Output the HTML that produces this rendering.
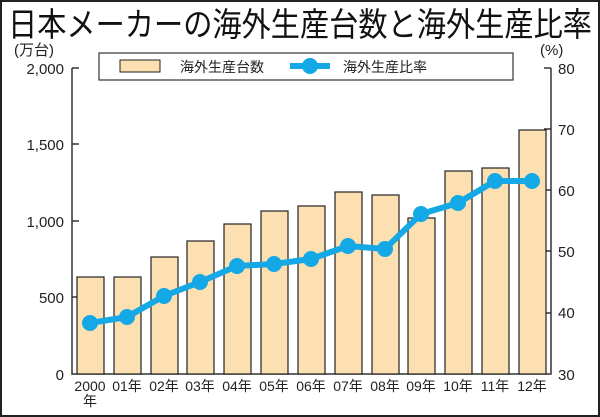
<!DOCTYPE html>
<html><head><meta charset="utf-8"><style>
html,body{margin:0;padding:0;background:#fff}
svg{display:block;font-family:"Liberation Sans","Noto Sans CJK JP",sans-serif}
</style></head><body>
<svg width="600" height="417" viewBox="0 0 600 417">
<rect x="1" y="1" width="598" height="415" fill="#fff" stroke="#222" stroke-width="2"/>
<text x="8" y="36" font-size="33" fill="#111" textLength="584" lengthAdjust="spacingAndGlyphs">日本メーカーの海外生産台数と海外生産比率</text>
<text x="14" y="55" font-size="15" fill="#222">(万台)</text>
<text x="540" y="55" font-size="15" fill="#222">(%)</text>
<g font-size="15" fill="#222" text-anchor="end">
<text x="64" y="74">2,000</text><text x="64" y="150">1,500</text><text x="64" y="227">1,000</text><text x="64" y="303">500</text><text x="64" y="380">0</text>
</g>
<g font-size="15" fill="#222">
<text x="558" y="74">80</text><text x="558" y="135">70</text><text x="558" y="196">60</text><text x="558" y="257">50</text><text x="558" y="318">40</text><text x="558" y="380">30</text>
</g>
<g stroke="#333" stroke-width="1.5" fill="none">
<path d="M72 68 V374 H551 V68"/>
<path d="M72 68 H79 M72 144 H79 M72 221 H79 M72 297 H79"/>
<path d="M551 68 H544 M551 129 H544 M551 190 H544 M551 251 H544 M551 313 H544"/>
</g>
<g fill="#fde0b2" stroke="#222" stroke-width="1.2">
<rect x="77" y="277" width="27" height="97"/>
<rect x="114" y="277" width="27" height="97"/>
<rect x="151" y="257" width="27" height="117"/>
<rect x="187" y="241" width="27" height="133"/>
<rect x="224" y="224" width="27" height="150"/>
<rect x="261" y="211" width="27" height="163"/>
<rect x="298" y="206" width="27" height="168"/>
<rect x="335" y="192" width="27" height="182"/>
<rect x="372" y="195" width="27" height="179"/>
<rect x="408" y="218" width="27" height="156"/>
<rect x="445" y="171" width="27" height="203"/>
<rect x="482" y="168" width="27" height="206"/>
<rect x="519" y="130" width="27" height="244"/>
</g>
<polyline fill="none" stroke="#14a8e6" stroke-width="6" stroke-linejoin="round" points="90,323 127,317 164,296 200,282 237,266 274,264 311,259 348,246 385,249 421,214 458,203 495,181 532,181"/>
<g fill="#14a8e6">
<circle cx="90" cy="323" r="8"/><circle cx="127" cy="317" r="8"/><circle cx="164" cy="296" r="8"/><circle cx="200" cy="282" r="8"/><circle cx="237" cy="266" r="8"/><circle cx="274" cy="264" r="8"/><circle cx="311" cy="259" r="8"/><circle cx="348" cy="246" r="8"/><circle cx="385" cy="249" r="8"/><circle cx="421" cy="214" r="8"/><circle cx="458" cy="203" r="8"/><circle cx="495" cy="181" r="8"/><circle cx="532" cy="181" r="8"/>
</g>
<rect x="99" y="53" width="414" height="27" fill="#fff" stroke="#333" stroke-width="1.2"/>
<rect x="120" y="60" width="40" height="12" fill="#fde0b2" stroke="#222" stroke-width="1"/>
<text x="180" y="72" font-size="14" fill="#222">海外生産台数</text>
<line x1="290" y1="66" x2="330" y2="66" stroke="#14a8e6" stroke-width="6"/>
<circle cx="310" cy="66" r="8" fill="#14a8e6"/>
<text x="343" y="72" font-size="14" fill="#222">海外生産比率</text>
<g font-size="14" fill="#222" text-anchor="middle">
<text x="90" y="391">2000</text><text x="90" y="406">年</text>
<text x="127" y="391">01年</text><text x="164" y="391">02年</text><text x="200" y="391">03年</text><text x="237" y="391">04年</text><text x="274" y="391">05年</text><text x="311" y="391">06年</text><text x="348" y="391">07年</text><text x="385" y="391">08年</text><text x="421" y="391">09年</text><text x="458" y="391">10年</text><text x="495" y="391">11年</text><text x="532" y="391">12年</text>
</g>
</svg>
</body></html>
